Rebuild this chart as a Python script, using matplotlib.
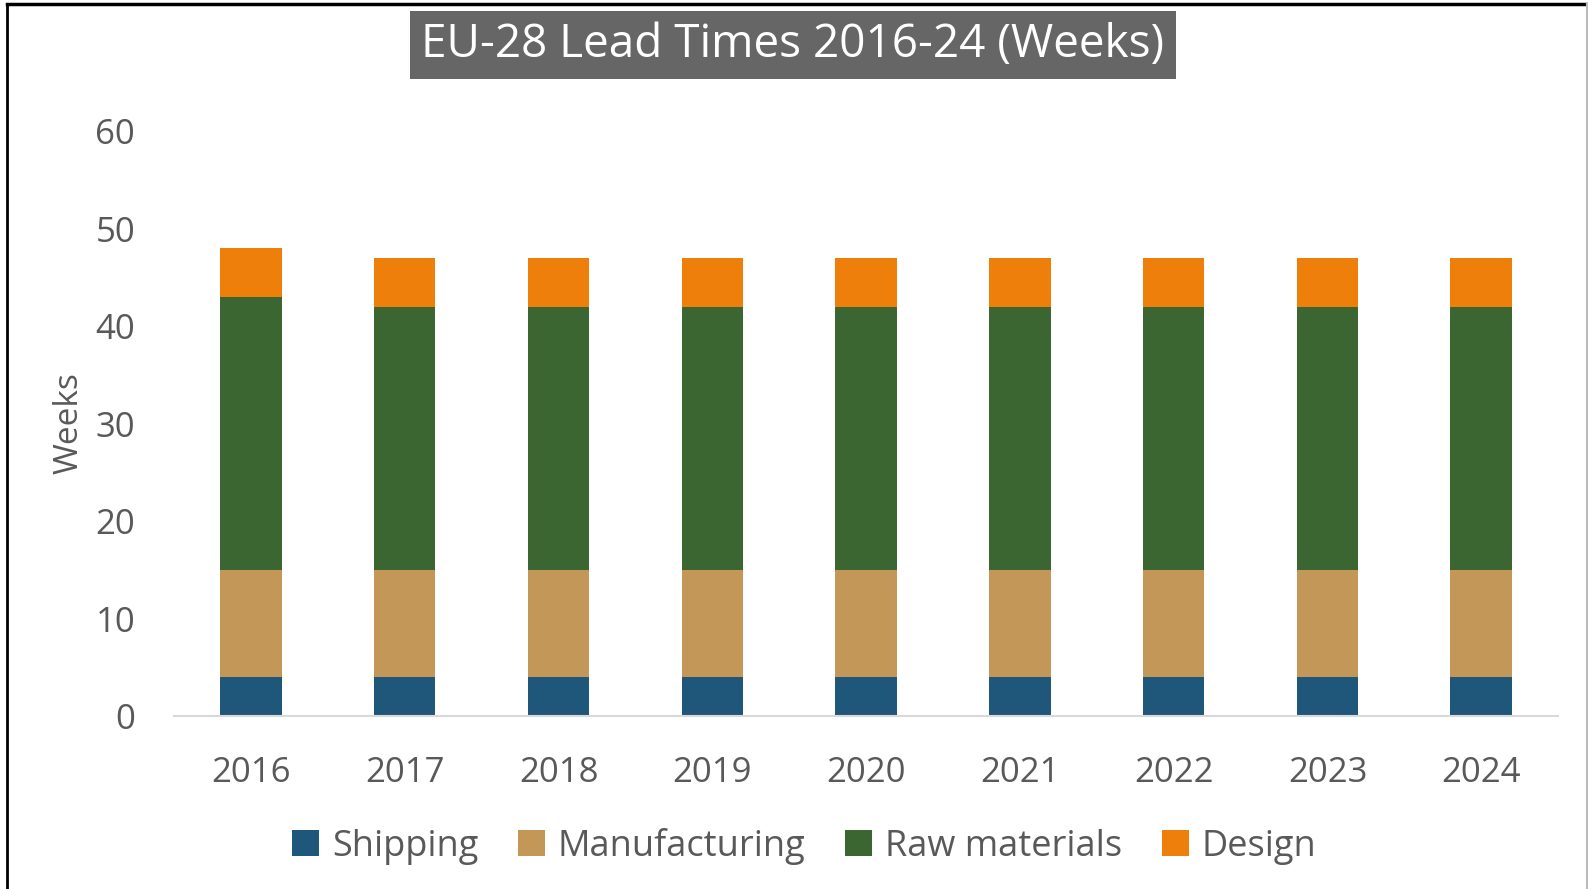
import matplotlib
matplotlib.use("Agg")
import matplotlib.pyplot as plt
import numpy as np

years = ["2016", "2017", "2018", "2019", "2020", "2021", "2022", "2023", "2024"]
shipping = [4, 4, 4, 4, 4, 4, 4, 4, 4]
manufacturing = [11, 11, 11, 11, 11, 11, 11, 11, 11]
raw_materials = [28, 27, 27, 27, 27, 27, 27, 27, 27]
design = [5, 5, 5, 5, 5, 5, 5, 5, 5]

series = [
    ("Shipping", shipping, "#1F577B"),
    ("Manufacturing", manufacturing, "#C39758"),
    ("Raw materials", raw_materials, "#3B6531"),
    ("Design", design, "#EF7F0B"),
]

plt.rcParams["font.family"] = ["Open Sans", "DejaVu Sans"]
text_color = "#595959"

fig = plt.figure(figsize=(15.88, 8.89), dpi=100)
ax = fig.add_axes([0.1096, 0.1946, 0.8716, 0.658])

x = np.arange(len(years))
bottom = np.zeros(len(years))
for name, vals, color in series:
    ax.bar(x, vals, width=0.4, bottom=bottom, color=color, label=name,
           edgecolor="none")
    bottom += np.array(vals)

ax.set_ylim(0, 60)
ax.set_xlim(-0.5, len(years) - 0.5)
ax.set_yticks(range(0, 61, 10))
ax.set_xticks(x)
ax.set_xticklabels(years)
ax.tick_params(axis="both", length=0, labelsize=25, colors=text_color)
ax.tick_params(axis="x", pad=29)
ax.tick_params(axis="y", pad=28)
for s in ["top", "right", "left"]:
    ax.spines[s].set_visible(False)
ax.spines["bottom"].set_color("#D9D9D9")
ax.spines["bottom"].set_linewidth(1.5)

ax.set_ylabel("Weeks", fontsize=24, color=text_color)
ax.yaxis.set_label_coords(-0.064, 0.5)

fig.text(0.4994, 0.949, "EU-28 Lead Times 2016-24 (Weeks)", ha="center", va="center",
         fontsize=33, color="white",
         bbox=dict(boxstyle="square,pad=0.24", facecolor="#666666", edgecolor="none"))

leg = fig.legend(loc="center", bbox_to_anchor=(0.5065, 0.048), ncol=4, frameon=False,
                 fontsize=26, labelcolor=text_color, handlelength=0.75,
                 handleheight=0.75, handletextpad=0.35, columnspacing=1.1)

# outer border
fig.add_artist(plt.Line2D([0.0045, 0.0045], [0, 0.995], transform=fig.transFigure,
                          color="black", lw=2))
fig.add_artist(plt.Line2D([0.0045, 1], [0.995, 0.995], transform=fig.transFigure,
                          color="black", lw=2.5))
fig.add_artist(plt.Line2D([0.9993, 0.9993], [0, 0.995], transform=fig.transFigure,
                          color="#BBBBBB", lw=1.5))

fig.savefig("out.png", dpi=100)
